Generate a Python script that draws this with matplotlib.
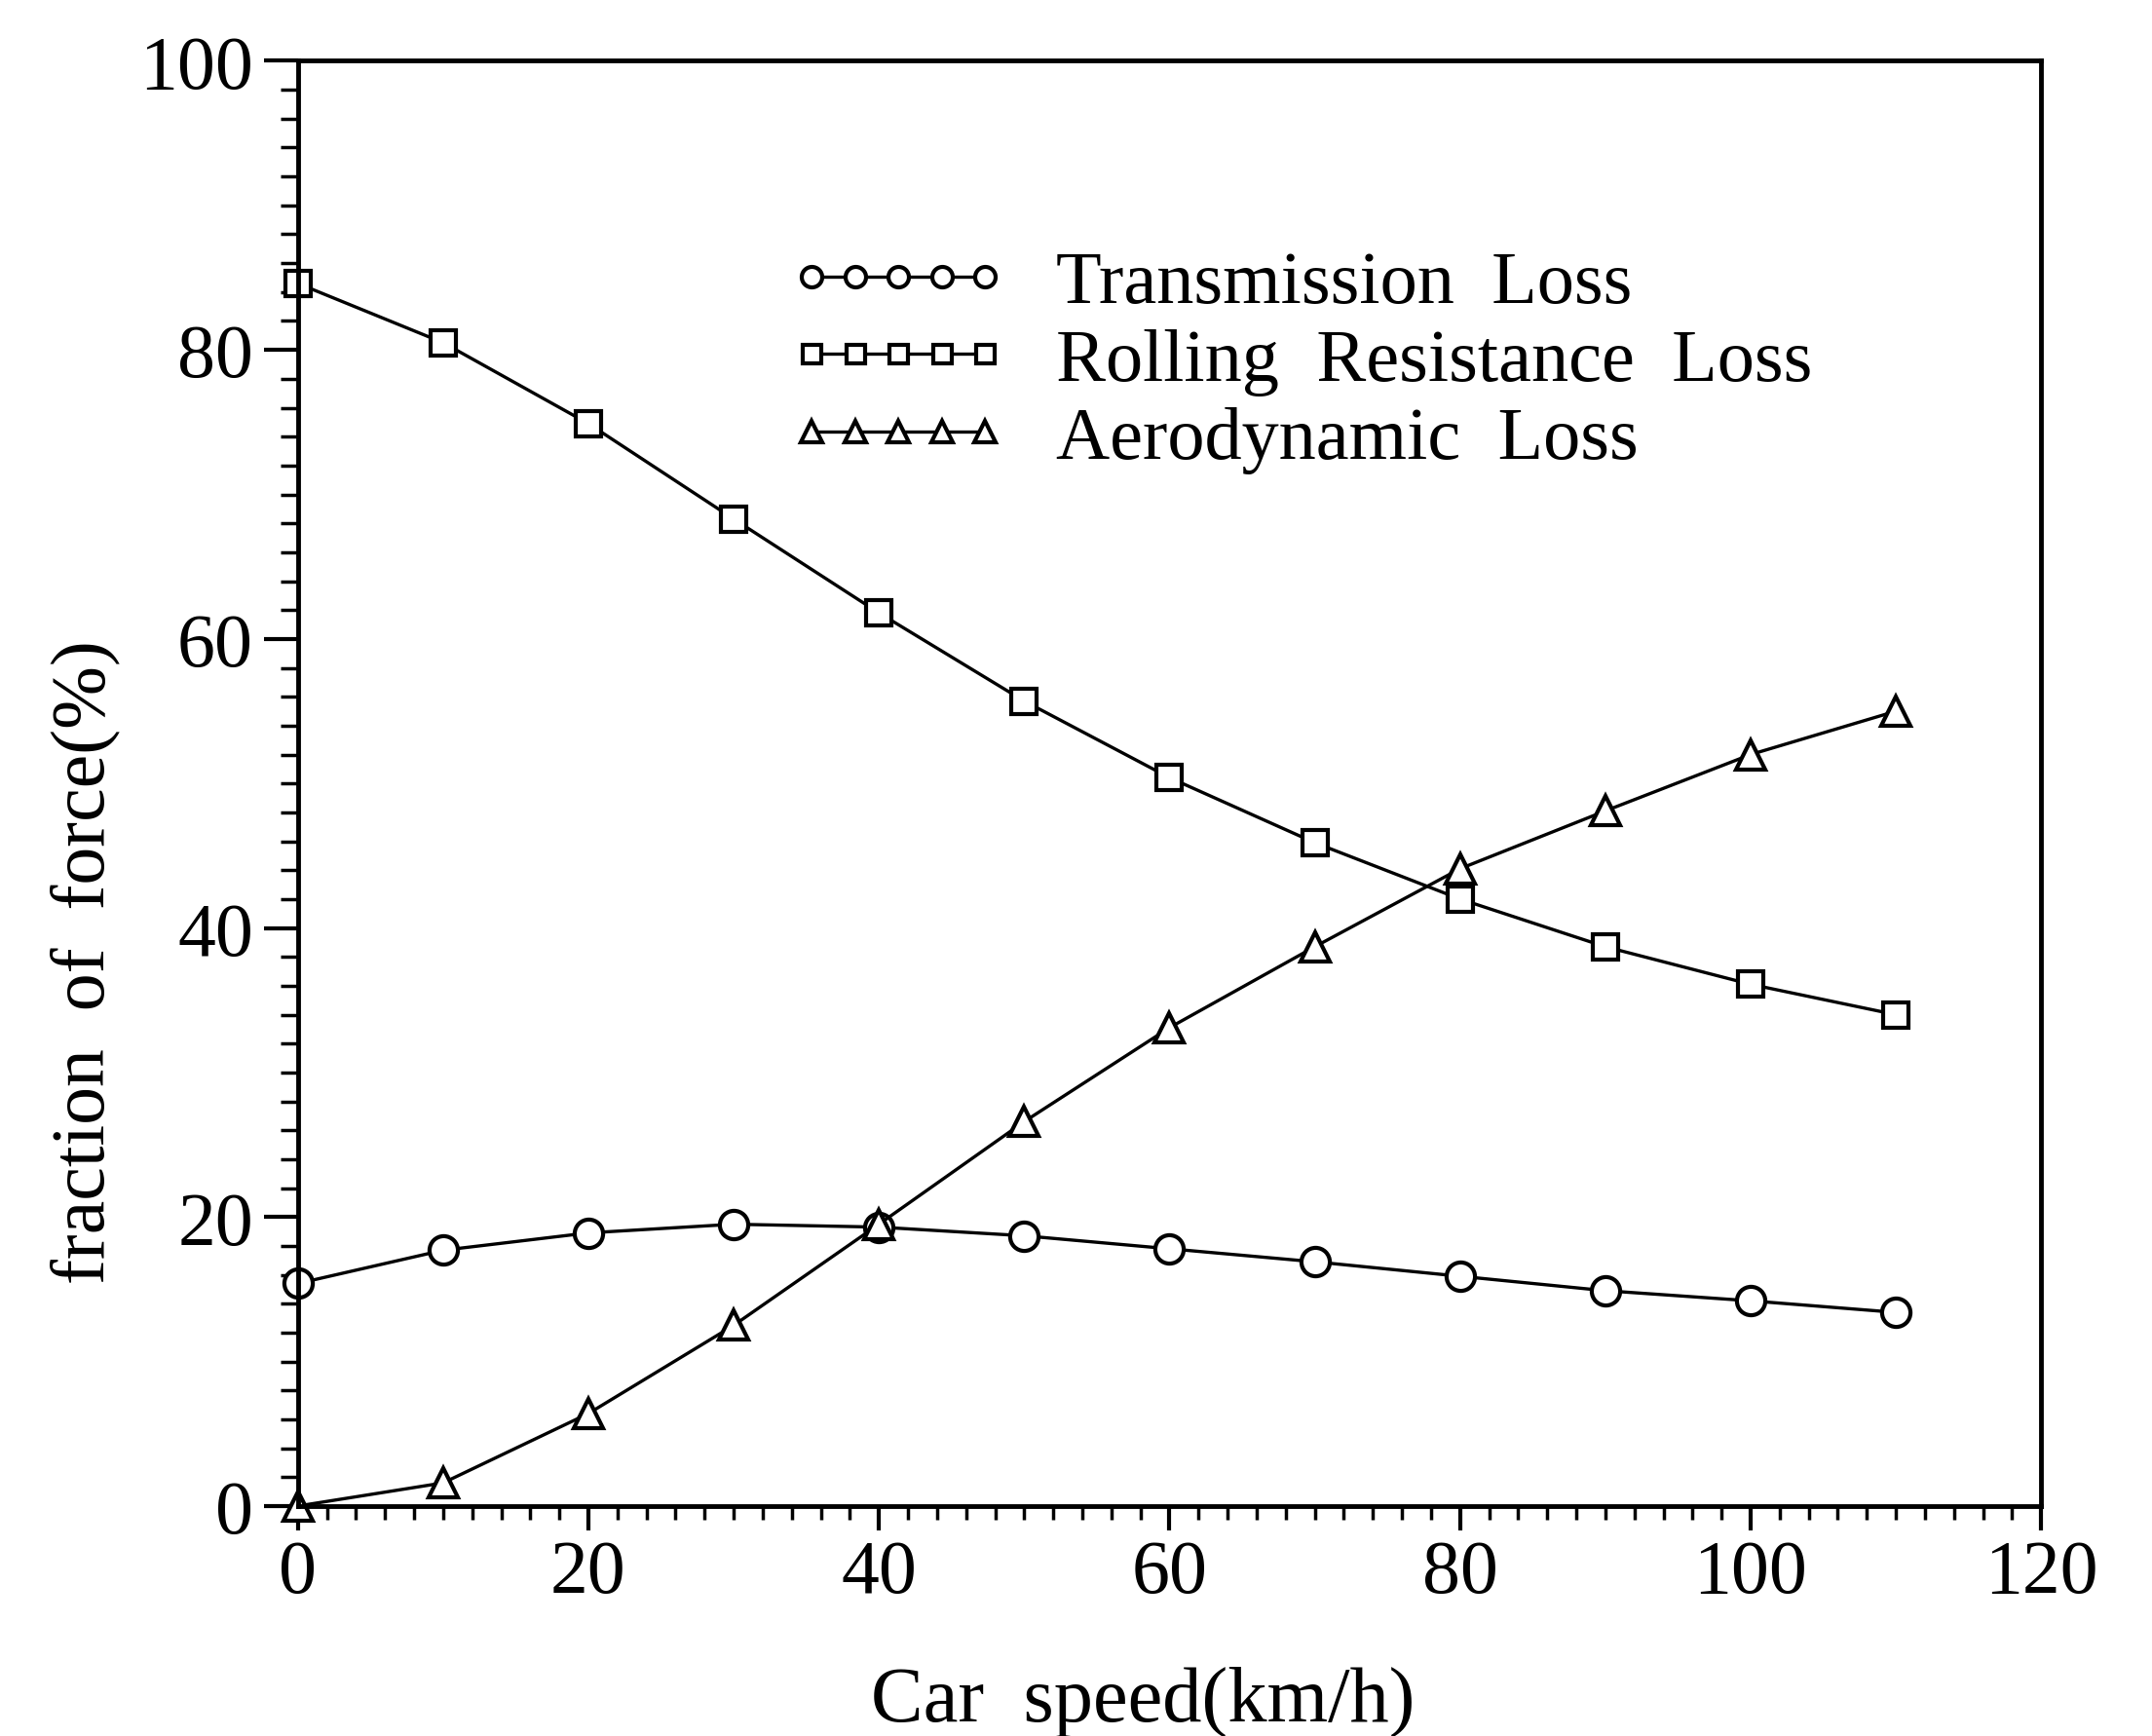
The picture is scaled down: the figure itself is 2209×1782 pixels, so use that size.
import matplotlib
matplotlib.use("Agg")
import matplotlib.pyplot as plt
from matplotlib.ticker import MultipleLocator

# data
speed = [0, 10, 20, 30, 40, 50, 60, 70, 80, 90, 100, 110]
transmission = [15.4, 17.7, 18.9, 19.5, 19.3, 18.7, 17.8, 16.9, 15.9, 14.9, 14.2, 13.4]
rolling = [84.6, 80.5, 74.9, 68.3, 61.8, 55.7, 50.4, 45.9, 42.0, 38.7, 36.1, 34.0]
aero = [0.0, 1.6, 6.4, 12.5, 19.5, 26.6, 33.1, 38.7, 44.1, 48.1, 52.0, 55.0]
labels = ["Transmission  Loss", "Rolling  Resistance  Loss", "Aerodynamic  Loss"]
xticks = [0, 20, 40, 60, 80, 100, 120]
yticks = [0, 20, 40, 60, 80, 100]

plt.rcParams['font.family'] = ['Liberation Serif', 'DejaVu Serif']

fig = plt.figure(figsize=(22.09, 17.83), dpi=100)
ax = fig.add_axes([0.1384, 0.1324, 0.9485 - 0.1384, 0.9644 - 0.1324])

style = dict(color='black', lw=2.4, markerfacecolor='white', markeredgecolor='black',
             markeredgewidth=3, clip_on=False)
ax.plot(speed, transmission, marker='o', markersize=21, label=labels[0], **style)
ax.plot(speed, rolling, marker='s', markersize=19, label=labels[1], **style)
ax.plot(speed, aero, marker='^', markersize=22, label=labels[2], **style)

ax.set_xlim(0, 120)
ax.set_ylim(0, 100)
ax.set_xticks(xticks)
ax.set_yticks(yticks)
ax.xaxis.set_minor_locator(MultipleLocator(2))
ax.yaxis.set_minor_locator(MultipleLocator(2))
ax.tick_params(which='major', direction='out', width=3, labelsize=56)
ax.tick_params(axis='y', which='major', length=25, pad=8)
ax.tick_params(axis='x', which='major', length=18, pad=6)
ax.tick_params(axis='y', which='minor', direction='out', length=13, width=2.5)
ax.tick_params(axis='x', which='minor', direction='out', length=10, width=2.5)
for sp in ax.spines.values():
    sp.set_linewidth(3.5)

ax.set_xlabel("Car  speed(km/h)", fontsize=58)
ax.set_ylabel("fraction  of  force(%)", fontsize=56)
ax.xaxis.label.set_va('center')
ax.yaxis.label.set_va('center')
ax.xaxis.set_label_coords(0.485, -0.135)
ax.yaxis.set_label_coords(-0.122, 0.377)

ax.legend(loc='upper left', bbox_to_anchor=(0.282, 0.869), frameon=False, fontsize=55,
          numpoints=5, markerscale=0.72, handlelength=2.93, handletextpad=0.65,
          labelspacing=0.135, borderpad=0, borderaxespad=0)

fig.savefig("out.png", dpi=100)
